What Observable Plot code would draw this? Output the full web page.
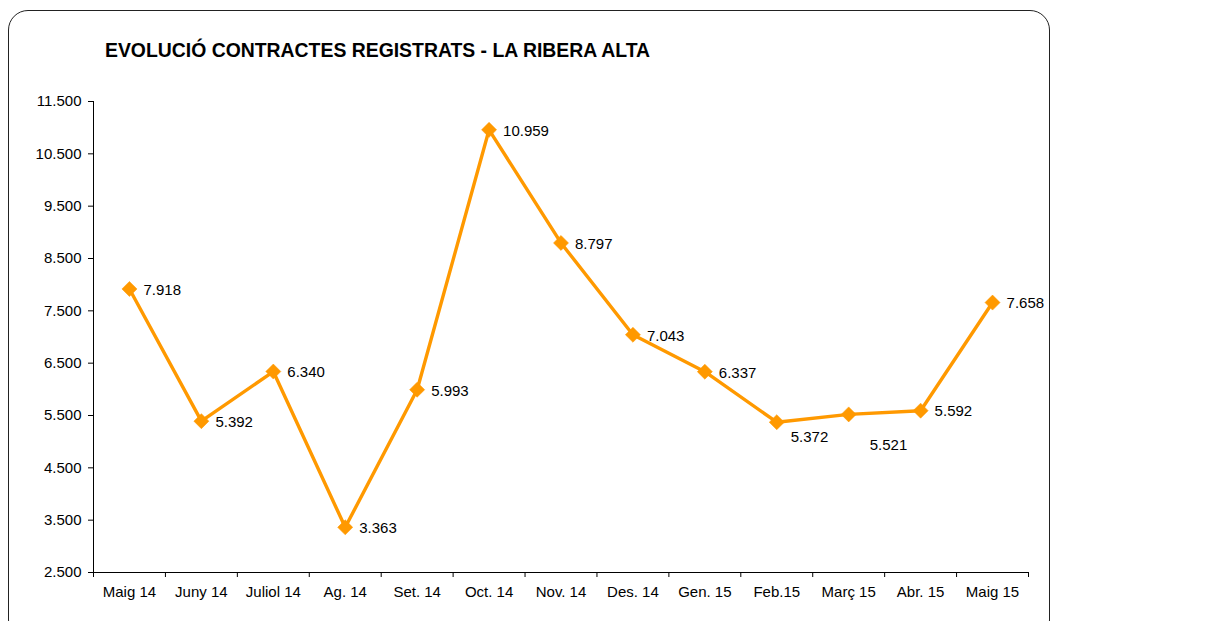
<!DOCTYPE html>
<html>
<head>
<meta charset="utf-8">
<script src="https://cdn.jsdelivr.net/npm/d3@7"></script>
<script src="https://cdn.jsdelivr.net/npm/@observablehq/plot@0.6"></script>
<style>
  html, body { margin: 0; padding: 0; background: #fff; }
  #wrap { position: relative; width: 1216px; height: 621px; overflow: hidden; font-family: "Liberation Sans", Arial, sans-serif; }
  #frame { position: absolute; left: 8px; top: 10px; width: 1042px; height: 630px; border: 1.5px solid #222; border-radius: 20px; box-sizing: border-box; }
  #title { position: absolute; left: 105px; top: 39px; font-size: 19.4px; line-height: 22px; font-weight: bold; color: #000; white-space: nowrap; }
  #chart { position: absolute; left: 0; top: 0; }
</style>
</head>
<body>
<div id="wrap">
  <div id="frame"></div>
  <div id="title">EVOLUCIÓ CONTRACTES REGISTRATS - LA RIBERA ALTA</div>
  <div id="chart"></div>
</div>
<script>
const months = ["Maig 14", "Juny 14", "Juliol 14", "Ag. 14", "Set. 14", "Oct. 14", "Nov. 14", "Des. 14", "Gen. 15", "Feb.15", "Març 15", "Abr. 15", "Maig 15"];
const contracts = [7918, 5392, 6340, 3363, 5993, 10959, 8797, 7043, 6337, 5372, 5521, 5592, 7658];
const yTicks = [2500, 3500, 4500, 5500, 6500, 7500, 8500, 9500, 10500, 11500];

const data = months.map((m, i) => ({i, month: m, value: contracts[i]}));
const bounds = d3.range(months.length + 1).map(k => k - 0.5);
const fmt = v => d3.format(",")(v).replace(/,/g, ".");
const orange = "#FF9900";
const font = "Liberation Sans, Arial, sans-serif";

const below1 = new Set(["Feb.15"]);
const below2 = new Set(["Març 15"]);

const plot = Plot.plot({
  width: 1216,
  height: 621,
  marginLeft: 93,
  marginRight: 188,
  marginTop: 101,
  marginBottom: 49,
  style: {fontFamily: font, fontSize: "15px", color: "#000", background: "transparent"},
  x: {type: "linear", domain: [-0.5, months.length - 0.5], axis: null, label: null},
  y: {domain: [2500, 11500], axis: null, label: null},
  marks: [
    Plot.ruleX([-0.5], {stroke: "#000", strokeWidth: 1}),
    Plot.axisY({ticks: yTicks, tickFormat: fmt, tickSize: 5, tickPadding: 7, fontSize: 15, stroke: "#000", fill: "#000", label: null}),
    Plot.ruleY([2500], {stroke: "#000", strokeWidth: 1}),
    Plot.axisX({ticks: bounds, tickFormat: () => "", tickSize: 5, stroke: "#000", label: null}),
    Plot.axisX({ticks: d3.range(months.length), tickFormat: i => months[i], tickSize: 0, tickPadding: 14, fontSize: 15, fill: "#000", label: null}),
    Plot.line(data, {x: "i", y: "value", stroke: orange, strokeWidth: 3.4}),
    Plot.dot(data, {x: "i", y: "value", symbol: "square", rotate: 45, r: 6, fill: orange, stroke: orange, strokeWidth: 0.5}),
    Plot.text(data.filter(d => !below1.has(d.month) && !below2.has(d.month)), {x: "i", y: "value", text: d => fmt(d.value), textAnchor: "start", dx: 14, dy: 1, fontSize: 15, fill: "#000"}),
    Plot.text(data.filter(d => below1.has(d.month)), {x: "i", y: "value", text: d => fmt(d.value), textAnchor: "start", dx: 14, dy: 15, fontSize: 15, fill: "#000"}),
    Plot.text(data.filter(d => below2.has(d.month)), {x: "i", y: "value", text: d => fmt(d.value), textAnchor: "start", dx: 21, dy: 31, fontSize: 15, fill: "#000"})
  ]
});
document.getElementById("chart").appendChild(plot);
</script>
</body>
</html>
